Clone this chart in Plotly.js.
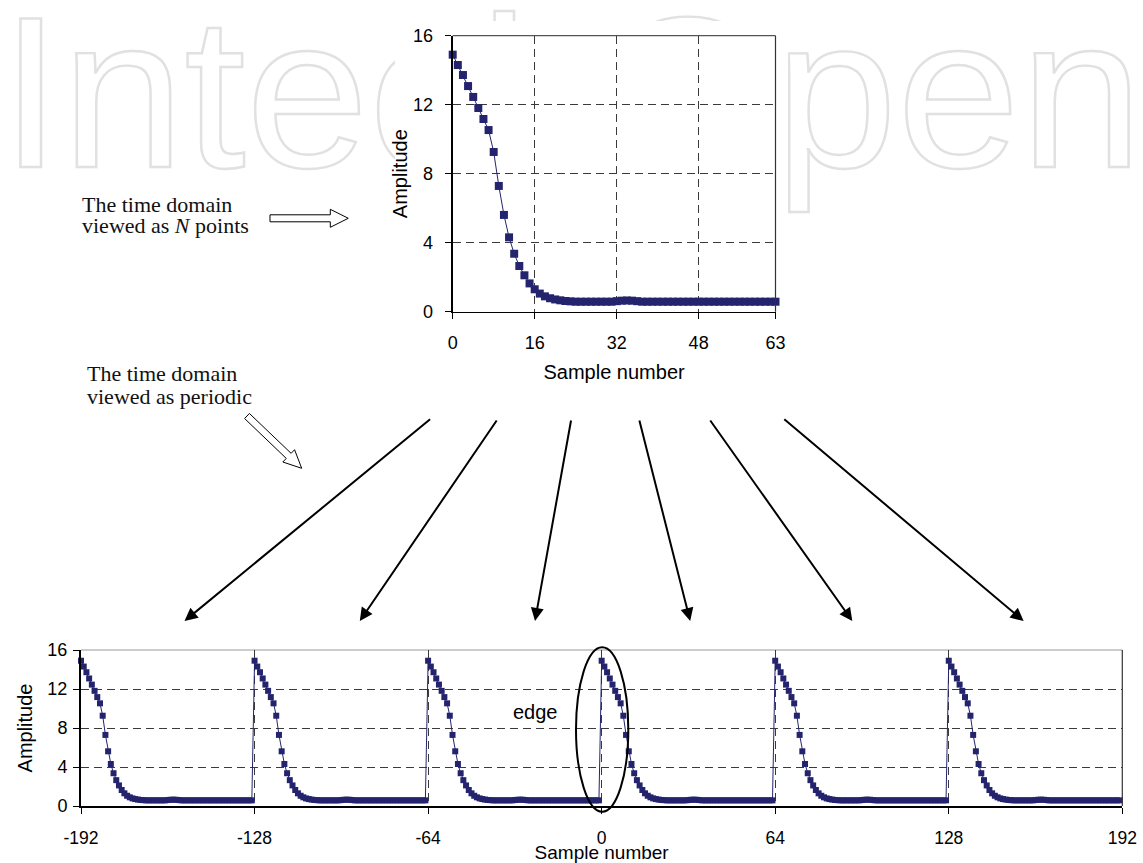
<!DOCTYPE html>
<html>
<head>
<meta charset="utf-8">
<script src="https://cdn.plot.ly/plotly-3.0.1.min.js"></script>
<style>
  html, body { margin: 0; padding: 0; background: #ffffff; }
  #wrap { position: relative; width: 1143px; height: 863px; overflow: hidden; }
  #wm { position: absolute; left: 0; top: 0; }
  #chart { position: absolute; left: 0; top: 0; width: 1143px; height: 863px; }
</style>
</head>
<body>
<div id="wrap">
  <svg id="wm" width="1143" height="863" xmlns="http://www.w3.org/2000/svg">
    <text x="0" y="166.7" font-family="'Liberation Sans', Arial, sans-serif" font-size="216"
          fill="none" stroke="#e1e1e1" stroke-width="2.4" textLength="1143" lengthAdjust="spacingAndGlyphs">IntechOpen</text>
    <rect x="395" y="21" width="393" height="380" fill="#ffffff"></rect>
  </svg>
  <div id="chart"></div>
</div>
<script>
// ---------------- data ----------------
// one period of the time-domain signal (samples 0..63)
const sampleIndex = [
  0,1,2,3,4,5,6,7,8,9,10,11,12,13,14,15,
  16,17,18,19,20,21,22,23,24,25,26,27,28,29,30,31,
  32,33,34,35,36,37,38,39,40,41,42,43,44,45,46,47,
  48,49,50,51,52,53,54,55,56,57,58,59,60,61,62,63
];
const amplitude = [
  14.9, 14.3, 13.72, 13.08, 12.45, 11.81, 11.17, 10.53,
  9.26, 7.29, 5.61, 4.31, 3.36, 2.65, 2.11, 1.64,
  1.30, 1.05, 0.89, 0.78, 0.71, 0.66, 0.62, 0.60,
  0.58, 0.58, 0.58, 0.58, 0.58, 0.58, 0.58, 0.58,
  0.61, 0.64, 0.65, 0.64, 0.61, 0.58, 0.58, 0.58,
  0.58, 0.58, 0.58, 0.58, 0.58, 0.58, 0.58, 0.58,
  0.58, 0.58, 0.58, 0.58, 0.58, 0.58, 0.58, 0.58,
  0.58, 0.58, 0.58, 0.58, 0.58, 0.58, 0.58, 0.58
];
// starts of the periodic copies shown in the lower chart
const periodStarts = [-192, -128, -64, 0, 64, 128];

const topXTicks = [0, 16, 32, 48, 63];
const topXTickText = ['0', '16', '32', '48', '63'];
const botXTicks = [-192, -128, -64, 0, 64, 128, 192];
const botXTickText = ['-192', '-128', '-64', '0', '64', '128', '192'];
const yTicks = [0, 4, 8, 12, 16];
const yTickText = ['0', '4', '8', '12', '16'];

const labelN1 = 'The time domain';
const labelN2 = 'viewed as <i>N</i> points';
const labelP1 = 'The time domain';
const labelP2 = 'viewed as periodic';
const edgeLabel = 'edge';
const xTitle = 'Sample number';
const yTitle = 'Amplitude';

// ---------------- build periodic series ----------------
const perX = [], perY = [];
periodStarts.forEach(p => {
  sampleIndex.forEach((n, i) => { perX.push(p + n); perY.push(amplitude[i]); });
});

// ---------------- helpers (paper == pixels since margins are 0) ----------------
const W = 1143, H = 863;
const px = x => x / W;
const py = y => 1 - y / H;

const navy = '#24246e';
const gridCol = '#3a3a3a';
const sans = '"Liberation Sans", Arial, sans-serif';
const serif = '"Liberation Serif", "Times New Roman", serif';

function blockArrow(tx, ty, hx, hy, shaft, head, headLen) {
  const dx = hx - tx, dy = hy - ty;
  const L = Math.hypot(dx, dy);
  const ux = dx / L, uy = dy / L;
  const vx = -uy, vy = ux;
  const bx = hx - ux * headLen, by = hy - uy * headLen;
  const s = shaft / 2, h = head / 2;
  const pts = [
    [tx + vx * s, ty + vy * s],
    [bx + vx * s, by + vy * s],
    [bx + vx * h, by + vy * h],
    [hx, hy],
    [bx - vx * h, by - vy * h],
    [bx - vx * s, by - vy * s],
    [tx - vx * s, ty - vy * s]
  ];
  const d = 'M' + pts.map(p => px(p[0]).toFixed(5) + ',' + py(p[1]).toFixed(5)).join(' L') + ' Z';
  return { type: 'path', xref: 'paper', yref: 'paper', path: d,
           fillcolor: '#ffffff', line: { color: '#000000', width: 1 }, layer: 'above' };
}

// thin arrows: [tailX, tailY, tipX, tipY] in pixels
const arrowPix = [
  [431.6, 418, 184.5, 621],
  [497.7, 419, 359.8, 621],
  [571.3, 419, 535.0, 621],
  [639.0, 419, 690.2, 621],
  [709.2, 419, 852.3, 621],
  [782.8, 418, 1023.6, 621]
];

// ---------------- traces ----------------
const traces = [
  {
    type: 'scatter', mode: 'lines+markers', x: sampleIndex, y: amplitude,
    xaxis: 'x', yaxis: 'y', cliponaxis: false,
    line: { color: navy, width: 1 },
    marker: { symbol: 'square', size: 8, color: navy },
    hoverinfo: 'x+y'
  },
  {
    type: 'scatter', mode: 'lines+markers', x: perX, y: perY,
    xaxis: 'x2', yaxis: 'y2', cliponaxis: false,
    line: { color: navy, width: 1 },
    marker: { symbol: 'square', size: 6, color: navy },
    hoverinfo: 'x+y'
  }
];

const axisCommon = {
  ticks: 'outside', ticklen: 6, tickwidth: 1, tickcolor: '#000',
  showline: true, linecolor: '#000', zeroline: false,
  showgrid: true, gridcolor: gridCol, gridwidth: 1, griddash: '8px,5px',
  tickfont: { family: sans, size: 18, color: '#000' },
  automargin: false, fixedrange: true
};

const shapes = [
  // top chart borders (top + right)
  { type: 'line', xref: 'x domain', yref: 'y domain', x0: 0, x1: 1, y0: 1, y1: 1, line: { color: '#555', width: 1.2 }, layer: 'above' },
  { type: 'line', xref: 'x domain', yref: 'y domain', x0: 1, x1: 1, y0: 0, y1: 1, line: { color: '#333', width: 1.2 }, layer: 'above' },
  // bottom chart borders (top + right)
  { type: 'line', xref: 'x2 domain', yref: 'y2 domain', x0: 0, x1: 1, y0: 1, y1: 1, line: { color: '#999', width: 1 }, layer: 'below' },
  { type: 'line', xref: 'x2 domain', yref: 'y2 domain', x0: 1, x1: 1, y0: 0, y1: 1, line: { color: '#333', width: 1.2 }, layer: 'above' },
  // ellipse around the edge
  { type: 'circle', xref: 'paper', yref: 'paper', x0: px(576), x1: px(628.3), y0: py(811.7), y1: py(647.3),
    line: { color: '#000', width: 2 }, layer: 'above' },
  // outlined block arrows
  blockArrow(270, 218.3, 348.3, 218.3, 7, 18, 18),
  blockArrow(247, 416, 301.7, 468.3, 7, 17, 18)
];

const serifFont = { family: serif, size: 22, color: '#111' };
const annotations = [
  { text: labelN1, xref: 'paper', yref: 'paper', x: px(80), y: py(204), xanchor: 'left', yanchor: 'middle',
    showarrow: false, font: serifFont },
  { text: labelN2, xref: 'paper', yref: 'paper', x: px(80), y: py(226), xanchor: 'left', yanchor: 'middle',
    showarrow: false, font: serifFont },
  { text: labelP1, xref: 'paper', yref: 'paper', x: px(85), y: py(373), xanchor: 'left', yanchor: 'middle',
    showarrow: false, font: serifFont },
  { text: labelP2, xref: 'paper', yref: 'paper', x: px(85), y: py(396), xanchor: 'left', yanchor: 'middle',
    showarrow: false, font: serifFont },
  { text: edgeLabel, xref: 'x2', yref: 'y2', x: -24.4, y: 9.67, xanchor: 'center', yanchor: 'middle',
    showarrow: false, font: { family: sans, size: 20, color: '#000' } }
];
arrowPix.forEach(a => {
  annotations.push({
    text: '', xref: 'paper', yref: 'paper', x: px(a[2]), y: py(a[3]),
    axref: 'pixel', ayref: 'pixel', ax: a[0] - a[2], ay: a[1] - a[3],
    showarrow: true, arrowhead: 2, arrowsize: 1.3, arrowwidth: 2, arrowcolor: '#000', standoff: 0
  });
});

const layout = {
  width: W, height: H,
  margin: { l: 0, r: 0, t: 0, b: 0, pad: 0 },
  paper_bgcolor: 'rgba(0,0,0,0)', plot_bgcolor: 'rgba(0,0,0,0)',
  showlegend: false,
  font: { family: sans, size: 18, color: '#000' },
  xaxis: Object.assign({}, axisCommon, {
    domain: [px(452.7), px(775.5)], range: [0, 63], anchor: 'y',
    tickmode: 'array', tickvals: topXTicks, ticktext: topXTickText,
    linewidth: 1.5, ticklabelstandoff: 8,
    title: { text: xTitle, font: { family: sans, size: 20, color: '#000' }, standoff: 13 }
  }),
  yaxis: Object.assign({}, axisCommon, {
    domain: [py(311.7), py(35.7)], range: [0, 16], anchor: 'x',
    tickmode: 'array', tickvals: yTicks, ticktext: yTickText,
    linewidth: 2, ticklabelstandoff: 8,
    title: { text: yTitle, font: { family: sans, size: 20, color: '#000' }, standoff: 0 }
  }),
  xaxis2: Object.assign({}, axisCommon, {
    domain: [px(81), px(1122.3)], range: [-192, 192], anchor: 'y2',
    tickmode: 'array', tickvals: botXTicks, ticktext: botXTickText,
    linewidth: 1.5, ticklabelstandoff: 9,
    tickfont: { family: sans, size: 17.5, color: '#000' },
    title: { text: xTitle, font: { family: sans, size: 19, color: '#000' }, standoff: 2 }
  }),
  yaxis2: Object.assign({}, axisCommon, {
    domain: [py(806), py(650)], range: [0, 16], anchor: 'x2',
    tickmode: 'array', tickvals: yTicks, ticktext: yTickText,
    linewidth: 2, ticklabelstandoff: 2,
    title: { text: yTitle, font: { family: sans, size: 20, color: '#000' }, standoff: 9 }
  }),
  shapes: shapes,
  annotations: annotations
};

Plotly.newPlot('chart', traces, layout, { staticPlot: true, displayModeBar: false });
</script>
</body>
</html>
